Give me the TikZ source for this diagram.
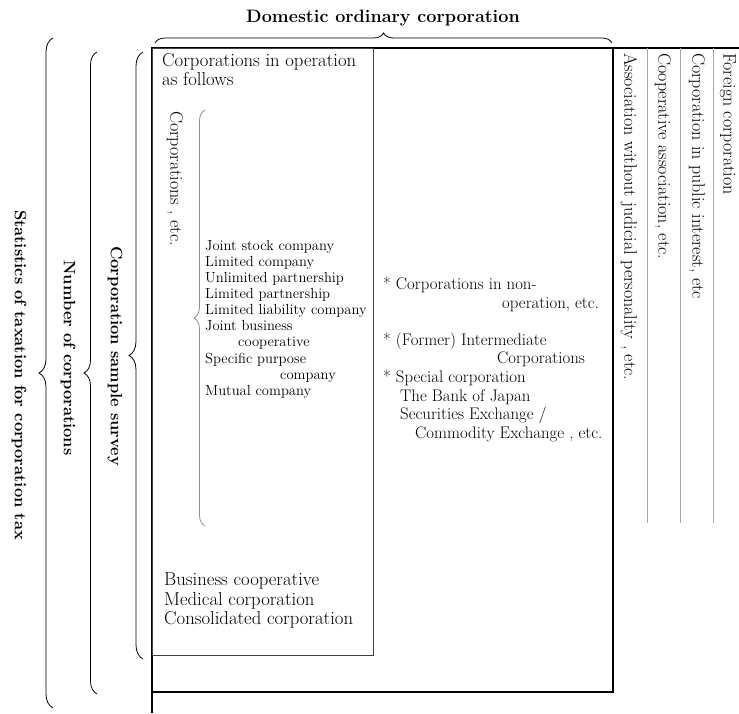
\documentclass[tikz,border=0pt]{standalone}
\usetikzlibrary{decorations.pathreplacing,positioning}
\begin{document}
\begin{tikzpicture}
            [x = 1pt, y = -1pt,
             frame/.style = {draw, line width = 1.3pt},
             subframe/.style = {draw = black!75, line width = 0.9pt},
             colline/.style = {draw = black!35, line width = 0.8pt},
             bracket/.style = {decorate, line width = 0.8pt, decoration = {brace, amplitude = #1}},
             bracket/.default = 14,
             boxtext/.style = {font = \fontsize{18.7}{19.3}\selectfont, align = left, inner sep = 0pt},
             smalltext/.style = {font = \fontsize{14.6}{16.1}\selectfont, align = left, inner sep = 0pt},
             midtext/.style = {font = \fontsize{16.8}{18.7}\selectfont, align = left, inner sep = 0pt},
             coltext/.style = {font = \fontsize{18}{18}\selectfont, rotate = -90, anchor = west, inner sep = 0pt},
             sidelabel/.style = {font = \bfseries\fontsize{16.5}{20}\selectfont, rotate = -90, inner sep = 0pt}]
            \useasboundingbox (0,0) rectangle (739,713);
            % corners of the frames
            \coordinate (TL) at (152,48);
            \coordinate (TR) at (739,48);
            \coordinate (BR) at (613,692);
            \coordinate (LB) at (152,713);
            \coordinate (IBR) at (373,655);
            % frames
            \draw[frame] (TL) -- (TR);
            \draw[frame] (TL) -- (LB);
            \draw[frame] (TL) rectangle (BR);
            \draw[subframe] (TL) rectangle (IBR);
            \foreach \x in {647,680,713}
                \draw[colline] (\x,48) -- (\x,523);
            % braces
            \node[font = \bfseries\fontsize{18}{20}\selectfont] (domestic) at (383,18) {Domestic ordinary corporation};
            \draw[bracket = 10] (155,43) -- (612,43);
            \draw[bracket = 14] (53,708) -- (53,38);
            \draw[bracket = 13] (97,694) -- (97,52);
            \draw[bracket = 14] (143,659) -- (143,52);
            \draw[bracket = 11, draw = black!45] (205,526) -- (205,110);
            \node[sidelabel] (stats) at (19,375) {Statistics of taxation for corporation tax};
            \node[sidelabel] (number) at (68,358) {Number of corporations};
            \node[sidelabel] (sample) at (115,356) {Corporation sample survey};
            % texts in the frames
            \node[boxtext, anchor = north west] (oper) at (162,53) {Corporations in operation\\as follows};
            \node[coltext] (etc) at (175,111) {Corporations , etc.};
            \node[smalltext, anchor = north west] (kinds) at (205,240)
                {Joint stock company\\Limited company\\Unlimited partnership\\Limited partnership\\
                 Limited liability company\\Joint business\\\hspace*{33pt}cooperative\\
                 Specific purpose\\\hspace*{75pt}company\\Mutual company};
            \node[midtext, anchor = north west] (nonoper) at (383,277)
                {* Corporations in non-\\\hspace*{119pt}operation, etc.\\[18pt]
                 * (Former) Intermediate\\\hspace*{114pt}Corporations\\
                 * Special corporation\\\hspace*{17pt}The Bank of Japan\\
                 \hspace*{17pt}Securities Exchange /\\\hspace*{32pt}Commodity Exchange , etc.};
            \node[boxtext, anchor = north west] (coop) at (164,573)
                {Business cooperative\\Medical corporation\\Consolidated corporation};
            \node[coltext] (assoc) at (629,53) {Association without judicial personality , etc.};
            \node[coltext] (coopassoc) at (663,53) {Cooperative association, etc.};
            \node[coltext] (public) at (697,53) {Corporation in public interest, etc};
            \node[coltext] (foreign) at (728,53) {Foreign corporation};
        \end{tikzpicture}
\end{document}
